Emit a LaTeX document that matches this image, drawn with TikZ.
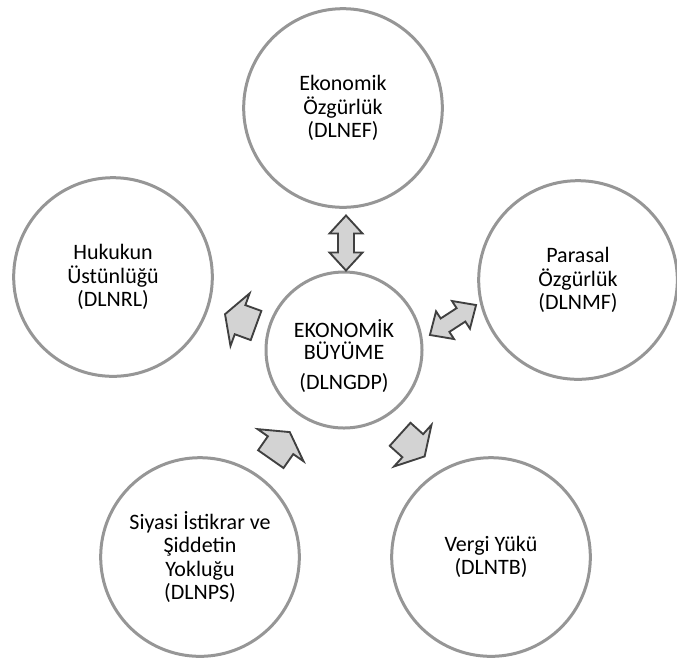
\documentclass[tikz,border=0pt]{standalone}
\usepackage{fontspec}
\setmainfont{Carlito}

\definecolor{ringgray}{RGB}{150,150,150}
\definecolor{arrowgray}{RGB}{211,211,211}
\definecolor{edgegray}{RGB}{64,64,64}

\tikzset{every picture/.style={line width=0.75pt}}
\tikzset{
  factor/.style={circle, draw=ringgray, line width=2.25pt, fill=white, minimum size=149pt, inner sep=0pt, align=center, font=\fontsize{16.5}{17.4}\selectfont},
  growth/.style={factor, minimum size=117pt},
  blocktext/.style={align=center, inner sep=0pt, font=\fontsize{16.5}{16.5}\selectfont},
  arrowbody/.style={draw=edgegray, fill=arrowgray, line width=1.4pt, line join=miter},
  onearrow/.pic={\draw[arrowbody] (-16,-15.5) -- (1,-15.5) -- (1,-28) -- (17,0) -- (1,28) -- (1,15.5) -- (-16,15.5) -- cycle;},
  twoarrow/.pic={\draw[arrowbody] (-27.5,0) -- (-9.5,-16.5) -- (-9.5,-8) -- (9.5,-8) -- (9.5,-16.5) -- (27.5,0) -- (9.5,16.5) -- (9.5,8) -- (-9.5,8) -- (-9.5,16.5) -- cycle;}
}

\begin{document}
\begin{tikzpicture}[x=0.75pt,y=0.75pt,yscale=-1,xscale=1]
\useasboundingbox (0,0) rectangle (677,662);

%Shape: Circle - centre
\node[growth] (gdp) at (344,350) {};
%Shape: Circle - top
\node[factor] (ef) at (343,108) {Ekonomik\\Özgürlük\\(DLNEF)};
%Shape: Circle - left
\node[factor] (rl) at (113,277) {Hukukun\\Üstünlüğü\\(DLNRL)};
%Shape: Circle - right
\node[factor] (mf) at (578,280) {Parasal\\Özgürlük\\(DLNMF)};
%Shape: Circle - bottom left
\node[factor] (ps) at (200,557) {Siyasi İstikrar ve\\Şiddetin\\Yokluğu\\(DLNPS)};
%Shape: Circle - bottom right
\node[factor] (tb) at (491,557) {Vergi Yükü\\(DLNTB)};

% Text Node
\node[blocktext] (gdptext) at (344,356) {EKONOMİK\\BÜYÜME\\[6.5pt](DLNGDP)};

%Shape: Block Arrows
\pic[rotate=90] at (346,243) {twoarrow};
\pic[rotate=33] at (453,320) {twoarrow};
\pic[rotate=160] at (241,320) {onearrow};
\pic[rotate=-42] at (412,445) {onearrow};
\pic[rotate=55] at (280,446) {onearrow};

\end{tikzpicture}
\end{document}
